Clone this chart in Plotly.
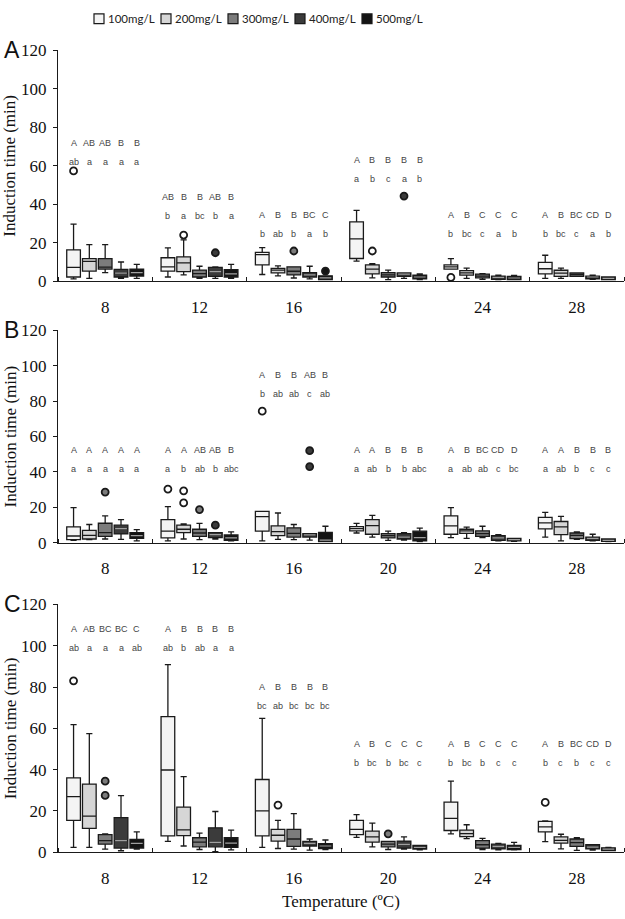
import plotly.graph_objects as go
from plotly.subplots import make_subplots

TEMPS = ["8", "12", "16", "20", "24", "28"]
DOSES = ["100mg/L", "200mg/L", "300mg/L", "400mg/L", "500mg/L"]
FILLS = ["#f4f4f4", "#d6d6d6", "#7c7c7c", "#3b3b3b", "#141414"]

# rows = dose (100..500 mg/L), columns = temperature (8..28)
A_Q1 = [[2.2, 5.3, 8.5, 11.8, 6.3, 3.8],
        [5.3, 5.0, 4.3, 3.8, 3.2, 2.5],
        [6.3, 2.2, 3.3, 2.2, 1.8, 2.5],
        [2.2, 2.5, 2.2, 2.5, 1.0, 1.3],
        [2.7, 2.2, 0.8, 1.2, 0.8, 0.8]]
A_MED = [[7.2, 7.5, 13.8, 22.0, 7.5, 6.5],
         [10.3, 9.5, 5.8, 6.3, 4.3, 4.2],
         [7.3, 4.0, 5.2, 3.3, 2.7, 3.5],
         [4.2, 5.0, 3.3, 3.7, 2.0, 2.2],
         [4.5, 3.8, 1.8, 2.2, 1.7, 1.5]]
A_Q3 = [[16.3, 12.2, 15.0, 30.8, 8.5, 9.8],
        [11.7, 12.7, 6.7, 8.5, 5.5, 5.7],
        [11.7, 5.8, 7.5, 4.5, 3.7, 4.3],
        [6.2, 7.2, 4.5, 4.3, 2.7, 2.7],
        [6.3, 6.0, 2.8, 3.2, 2.5, 2.2]]
A_LO = [[1.2, 2.2, 3.5, 10.5, 6.3, 1.5],
        [1.5, 3.3, 2.8, 1.8, 1.5, 1.5],
        [4.5, 1.5, 1.7, 0.8, 1.0, 2.5],
        [1.5, 1.5, 1.2, 1.5, 0.8, 1.0],
        [1.5, 1.5, 0.8, 0.8, 0.8, 0.8]]
A_HI = [[29.7, 17.3, 17.5, 36.8, 11.7, 13.5],
        [19.0, 21.5, 8.0, 9.2, 6.8, 6.8],
        [19.0, 7.8, 7.5, 5.8, 4.0, 4.3],
        [10.0, 7.5, 7.8, 4.3, 3.2, 3.2],
        [8.8, 8.8, 2.8, 3.8, 3.0, 2.2]]
# outliers: (temperature index, dose index, value)
A_OUT = [(0, 0, 57.3), (1, 1, 24.0), (1, 3, 14.8), (2, 2, 15.7), (2, 4, 5.3),
         (3, 1, 15.7), (3, 3, 44.2), (4, 0, 2.0)]
A_UP = [["A", "AB", "AB", "B", "B"], ["AB", "B", "B", "AB", "B"], ["A", "B", "B", "BC", "C"],
        ["A", "B", "B", "B", "B"], ["A", "B", "C", "C", "C"], ["A", "B", "BC", "CD", "D"]]
A_LOW = [["ab", "a", "a", "a", "a"], ["b", "a", "bc", "b", "a"], ["b", "ab", "b", "a", "b"],
         ["a", "b", "c", "a", "b"], ["b", "bc", "c", "a", "b"], ["b", "bc", "c", "a", "b"]]
A_LABEL_Y = [72, 44, 34.6, 63, 34.6, 34.6]

B_Q1 = [[1.7, 2.7, 6.5, 6.7, 4.8, 7.8],
        [2.1, 5.7, 4.0, 4.8, 5.3, 4.6],
        [3.6, 3.6, 3.2, 2.7, 3.6, 2.3],
        [5.0, 2.9, 3.2, 2.1, 1.3, 1.3],
        [2.5, 1.3, 0.6, 1.0, 1.0, 0.8]]
B_MED = [[3.8, 6.5, 14.7, 8.0, 9.5, 11.2],
         [4.2, 7.6, 6.3, 9.7, 6.7, 9.0],
         [5.7, 5.5, 5.3, 4.0, 5.1, 4.2],
         [8.0, 4.6, 4.4, 3.2, 2.7, 2.5],
         [4.0, 2.7, 1.5, 2.9, 1.7, 1.3]]
B_Q3 = [[9.0, 13.0, 17.7, 9.1, 15.2, 14.3],
        [7.0, 9.9, 9.5, 13.1, 7.6, 12.0],
        [11.0, 7.6, 8.4, 5.1, 6.7, 5.5],
        [9.9, 5.7, 5.1, 5.1, 4.0, 3.2],
        [5.7, 4.4, 5.9, 6.5, 2.5, 2.1]]
B_LO = [[1.3, 1.0, 1.1, 5.5, 2.9, 3.2],
        [1.7, 2.1, 1.9, 3.2, 2.5, 1.0],
        [2.1, 1.7, 1.7, 1.3, 2.9, 1.9],
        [1.9, 2.1, 1.5, 1.5, 1.0, 1.0],
        [1.0, 1.0, 0.6, 0.6, 0.8, 0.6]]
B_HI = [[19.8, 20.4, 17.7, 10.9, 19.8, 17.1],
        [10.3, 10.7, 16.8, 15.4, 8.8, 14.9],
        [15.2, 10.9, 10.3, 6.5, 9.3, 6.1],
        [13.1, 5.7, 5.1, 5.7, 4.6, 4.8],
        [7.4, 6.1, 9.3, 8.2, 2.5, 2.1]]
B_OUT = [(0, 2, 28.6), (1, 0, 30.3), (1, 1, 29.3), (1, 1, 22.5), (1, 2, 18.7),
         (1, 3, 9.9), (2, 0, 74.3), (2, 3, 52.0), (2, 3, 43.0)]
B_UP = [["A", "A", "A", "A", "A"], ["A", "A", "AB", "AB", "B"], ["A", "B", "B", "AB", "B"],
        ["A", "A", "B", "B", "B"], ["A", "B", "BC", "CD", "D"], ["A", "A", "B", "B", "B"]]
B_LOW = [["a", "a", "a", "a", "a"], ["a", "b", "ab", "b", "abc"], ["b", "ab", "ab", "c", "ab"],
         ["a", "ab", "b", "b", "abc"], ["a", "ab", "ab", "c", "bc"], ["a", "ab", "b", "c", "c"]]
B_LABEL_Y = [52.6, 52.6, 94.9, 52.6, 52.6, 52.6]

C_Q1 = [[15.4, 7.9, 7.9, 8.5, 10.5, 9.8],
        [11.5, 8.0, 5.4, 4.9, 7.5, 4.4],
        [3.9, 2.6, 2.8, 2.6, 2.0, 2.8],
        [2.0, 2.6, 3.0, 2.0, 1.6, 1.6],
        [2.0, 2.3, 1.8, 1.5, 1.3, 0.8]]
C_MED = [[26.9, 39.8, 20.0, 11.1, 16.4, 12.3],
         [17.5, 10.8, 8.2, 7.4, 9.0, 5.7],
         [5.6, 4.9, 6.4, 3.9, 3.6, 4.6],
         [5.6, 4.8, 4.3, 3.8, 2.8, 2.5],
         [4.3, 4.4, 3.0, 2.3, 2.3, 1.5]]
C_Q3 = [[36.0, 65.7, 35.2, 15.4, 24.3, 14.9],
        [33.0, 21.8, 11.1, 10.2, 10.7, 7.4],
        [8.5, 7.0, 11.1, 5.2, 5.6, 6.4],
        [16.7, 11.8, 5.2, 5.4, 3.9, 3.6],
        [6.2, 7.0, 4.1, 3.3, 3.3, 2.1]]
C_LO = [[2.3, 5.2, 2.3, 7.2, 8.9, 5.1],
        [2.3, 3.0, 1.8, 2.6, 6.6, 1.6],
        [1.5, 1.3, 1.5, 1.3, 1.3, 0.9],
        [0.7, 0.3, 1.0, 1.5, 1.1, 1.0],
        [1.5, 1.1, 1.3, 1.1, 1.1, 0.8]]
C_HI = [[61.8, 90.8, 64.8, 18.2, 34.4, 15.2],
        [57.4, 36.6, 15.4, 14.1, 13.3, 8.7],
        [8.9, 9.2, 18.7, 5.2, 6.7, 7.0],
        [27.4, 19.7, 6.4, 7.4, 4.3, 3.6],
        [9.8, 10.7, 5.9, 3.3, 4.8, 2.3]]
C_OUT = [(0, 0, 83.0), (0, 2, 34.4), (0, 2, 27.5), (2, 1, 22.8), (3, 2, 8.9), (5, 0, 24.1)]
C_UP = [["A", "AB", "BC", "BC", "C"], ["A", "B", "B", "B", "B"], ["A", "B", "B", "B", "B"],
        ["A", "B", "C", "C", "C"], ["A", "B", "C", "C", "C"], ["A", "B", "BC", "CD", "D"]]
C_LOW = [["ab", "a", "a", "a", "ab"], ["ab", "b", "ab", "a", "a"], ["bc", "ab", "bc", "bc", "bc"],
         ["b", "bc", "b", "bc", "c"], ["b", "bc", "b", "c", "c"], ["b", "c", "b", "c", "c"]]
C_LABEL_Y = [108, 108, 80.2, 52.6, 52.6, 52.6]

panels = [
    ("A", A_Q1, A_MED, A_Q3, A_LO, A_HI, A_OUT, A_UP, A_LOW, A_LABEL_Y),
    ("B", B_Q1, B_MED, B_Q3, B_LO, B_HI, B_OUT, B_UP, B_LOW, B_LABEL_Y),
    ("C", C_Q1, C_MED, C_Q3, C_LO, C_HI, C_OUT, C_UP, C_LOW, C_LABEL_Y),
]

W, H = 625, 919
OFFSETS = [-0.335, -0.168, 0.0, 0.168, 0.335]
BOX_W = 0.145
DOMAINS = [(278, 42), (545, 328), (861, 608)]  # pixel bottom/top of each panel
SERIF = "Liberation Serif, Times New Roman, serif"
SANS = "Liberation Sans, Arial, sans-serif"
LINE = "#1a1a1a"

fig = make_subplots(rows=3, cols=1)

for p, (tag, q1, med, q3, lo, hi, outs, up, low, label_y) in enumerate(panels):
    row = p + 1
    for d in range(len(DOSES)):
        xs = [g + OFFSETS[d] for g in range(len(TEMPS))]
        fig.add_trace(go.Box(
            x=xs, q1=q1[d], median=med[d], q3=q3[d],
            lowerfence=lo[d], upperfence=hi[d],
            width=BOX_W, whiskerwidth=0.45, boxpoints=False,
            fillcolor=FILLS[d], line=dict(color=LINE, width=1.3),
            showlegend=False, hoverinfo="skip",
        ), row=row, col=1)

        # the dark boxes show their median as a pale line
        if d >= 3:
            mx, my = [], []
            for x, m in zip(xs, med[d]):
                mx += [x - BOX_W / 2 + 0.01, x + BOX_W / 2 - 0.01, None]
                my += [m, m, None]
            fig.add_trace(go.Scatter(
                x=mx, y=my, mode="lines", line=dict(color="#a0a0a0", width=1.2),
                showlegend=False, hoverinfo="skip",
            ), row=row, col=1)

    ox = [g + OFFSETS[d] for g, d, v in outs]
    oy = [v for g, d, v in outs]
    oc = [FILLS[d] if d > 1 else "white" for g, d, v in outs]
    fig.add_trace(go.Scatter(
        x=ox, y=oy, mode="markers", showlegend=False, hoverinfo="skip",
        marker=dict(symbol="circle", size=7, color=oc, line=dict(color=LINE, width=1.8)),
    ), row=row, col=1)

    xref = "x" if row == 1 else f"x{row}"
    yref = "y" if row == 1 else f"y{row}"
    for g in range(len(TEMPS)):
        for d in range(len(DOSES)):
            for txt, shift in ((up[g][d], 0), (low[g][d], -19)):
                fig.add_annotation(
                    x=g + OFFSETS[d], y=label_y[g], xref=xref, yref=yref,
                    text=txt, showarrow=False, yshift=shift, yanchor="middle",
                    font=dict(family=SANS, size=9, color="#444"),
                )

    bot, top = DOMAINS[p]
    fig.update_yaxes(
        domain=[1 - bot / H, 1 - top / H], range=[0, 120],
        tickvals=list(range(0, 121, 20)), ticks="outside", ticklen=4,
        tickcolor=LINE, showline=True, linecolor=LINE, linewidth=1.3,
        showgrid=False, zeroline=False, ticklabelstandoff=3,
        tickfont=dict(family=SERIF, size=17, color="#111"),
        row=row, col=1,
    )
    fig.update_xaxes(
        domain=[58 / W, 624 / W], range=[-0.5, 5.5],
        tickvals=list(range(len(TEMPS))), ticktext=TEMPS, ticks="",
        showline=True, linecolor=LINE, linewidth=1.3, showgrid=False,
        zeroline=False, ticklabelstandoff=10,
        minor=dict(tickmode="linear", tick0=0.5, dtick=1, ticks="inside",
                   ticklen=4, tickcolor=LINE, showgrid=False),
        tickfont=dict(family=SERIF, size=17, color="#111"),
        row=row, col=1,
    )
    # panel letter and y title
    fig.add_annotation(x=2 / W, y=1 - top / H, xref="paper", yref="paper",
                       xanchor="left", yanchor="middle", text=tag, showarrow=False,
                       font=dict(family=SANS, size=23, color="#111"))
    fig.add_annotation(x=10 / W, y=1 - (top + bot) / 2 / H, xref="paper", yref="paper",
                       xanchor="center", yanchor="middle", textangle=-90,
                       text="Induction time (min)", showarrow=False,
                       font=dict(family=SERIF, size=17, color="#111"))

fig.add_annotation(x=341 / W, y=1 - 911 / H, xref="paper", yref="paper",
                   xanchor="center", yanchor="middle",
                   text="Temperature (ºC)", showarrow=False,
                   font=dict(family=SERIF, size=17, color="#111"))

# legend across the top: square key + label for each dose
for d, name in enumerate(DOSES):
    left = 94 + d * 67
    fig.add_shape(type="rect", xref="paper", yref="paper",
                  x0=left / W, x1=(left + 10) / W, y0=1 - 15 / H, y1=1 - 5 / H,
                  fillcolor=FILLS[d], line=dict(color=LINE, width=1.2))
    fig.add_annotation(x=(left + 12) / W, y=1 - 10 / H, xref="paper", yref="paper",
                       xanchor="left", yanchor="middle", text=name, showarrow=False,
                       font=dict(family="Lato", size=11.5, color="#222"))

fig.update_layout(
    width=W, height=H, plot_bgcolor="white", paper_bgcolor="white",
    margin=dict(l=0, r=0, t=0, b=0), showlegend=False,
)

fig.write_html("out.html", config={"displayModeBar": False},
               post_script="document.body.style.margin='0px';")
